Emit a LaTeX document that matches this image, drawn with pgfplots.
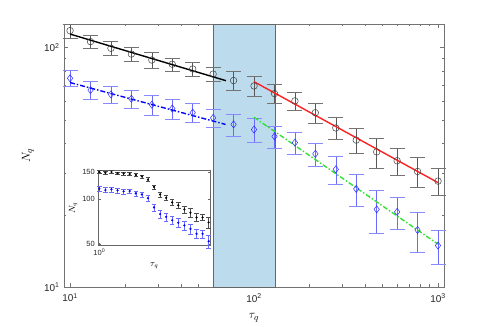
\documentclass[border=0pt]{standalone}
\usepackage{fontspec}
\setmainfont{Liberation Sans}
\usepackage{pgfplots}
\usepackage{pgfplotstable}
\pgfplotsset{compat=1.18}
\definecolor{clrBand}{HTML}{BCDCEE}
\definecolor{clrBar}{HTML}{6A6AFF}
\definecolor{clrDia}{HTML}{2A2AFF}
\definecolor{clrRed}{HTML}{FF2020}
\definecolor{clrGreen}{HTML}{33E033}

% main panel: tau, N (circles) +- err, N (diamonds) +- err
\pgfplotstableread{
x      Nb     eb    Nd    ed
10     117.8  8.0   74.5  5.6
12.92  106.0  7.0   66.5  5.7
16.68  99.4   6.7   63.8  5.4
21.54  94.1   6.1   61.2  5.3
27.83  88.8   6.7   57.8  5.5
35.94  85.3   5.4   55.7  5.3
46.42  81.5   5.7   53.5  4.8
59.95  77.6   5.4   50.9  4.6
77.43  72.9   6.6   47.8  5.1
100    69.2   6.6   45.5  5.2
129.2  64.3   5.8   42.6  4.5
166.8  59.9   5.4   40.1  4.4
215.4  53.5   5.2   36.0  4.0
278.3  46.2   4.9   31.0  4.1
359.4  41.1   4.9   25.7  3.9
464.2  36.7   5.3   21.1  4.3
599.5  33.7   4.4   20.6  3.1
774.3  30.4   4.3   17.3  3.3
1000   27.7   3.6   14.9  2.4
}\maindata

% inset panel
\pgfplotstableread{
x     Nb     eb   Nd     ed
1.000 150.7  3.0  116.8  4.5
1.122 149.1  3.0  114.3  4.5
1.259 150.7  3.0  115.6  4.5
1.413 147.7  3.0  113.8  4.5
1.585 147.0  3.0  112.0  4.0
1.778 146.1  3.0  112.5  4.0
1.995 143.9  3.5  108.6  4.5
2.239 141.0  3.5  106.9  4.0
2.512 134.1  4.0  100.9  4.5
2.818 119.9  4.0  87.7   4.5
3.162 106.9  4.0  79.1   4.5
3.548 101.5  4.0  75.9   4.5
3.981 94.6   4.0  72.0   4.5
4.467 90.5   4.0  69.4   4.5
5.012 85.1   4.5  66.6   4.5
5.623 80.9   6.0  63.1   5.0
6.310 75.2   4.5  58.5   4.0
7.079 75.2   3.5  58.5   3.5
7.943 69.7   6.0  52.2   5.0
}\insetdata

\begin{document}
\begin{tikzpicture}
\begin{loglogaxis}[
  at={(0,0)}, anchor=south west,
  scale only axis, width=380bp, height=263bp,
  xmin=9.27, xmax=1078, ymin=10, ymax=125.6,
  xtick={10,100,1000},
  xticklabels={10\textsuperscript{1},10\textsuperscript{2},10\textsuperscript{3}},
  ytick={10,100},
  yticklabels={10\textsuperscript{1},10\textsuperscript{2}},
  minor xtick={20,30,40,50,60,70,80,90,200,300,400,500,600,700,800,900},
  minor ytick={20,30,40,50,60,70,80,90},
  tick align=inside,
  major tick length=4bp, minor tick length=2.5bp,
  axis line style={black!55},
  every tick/.style={black!55},
  tick label style={font=\fontsize{10}{10}\selectfont, black!85},
  xticklabel style={yshift=-3bp},
  yticklabel style={xshift=-1bp},
  xlabel={$\tau_q$}, ylabel={$N_q$},
  label style={font=\fontsize{13}{13}\selectfont},
  xlabel style={at={(axis description cs:0.5,-0.118)}, anchor=center},
  ylabel style={at={(axis description cs:-0.095,0.5)}, anchor=center},
  clip=false,
]
\addplot[fill=clrBand, draw=black!60, line width=0.6pt]
  coordinates {(60,10)(130,10)(130,125.6)(60,125.6)} -- cycle;

\addplot[only marks, mark=o, mark size=3.3bp, black!75, line width=0.5pt,
  error bars/.cd, y dir=both, y explicit,
  error bar style={black!65, line width=0.6pt},
  error mark options={rotate=90, mark size=7.5bp, black!55, line width=0.6pt}]
  table[x=x, y=Nb, y error=eb] {\maindata};

\addplot[only marks, mark=diamond, mark size=3.6bp, clrDia, line width=0.5pt,
  error bars/.cd, y dir=both, y explicit,
  error bar style={clrBar, line width=0.6pt},
  error mark options={rotate=90, mark size=7.5bp, clrBar!80, line width=0.6pt}]
  table[x=x, y=Nd, y error=ed] {\maindata};

\addplot[black, line width=1.4pt] coordinates {(10,114)(70.4,72.8)};
\addplot[blue, line width=1.4pt, dash pattern=on 5pt off 2pt on 1.5pt off 2pt]
  coordinates {(10,71.5)(70,47.8)};
\addplot[clrRed, line width=1.4pt] coordinates {(100,72.1)(1000,27.3)};
\addplot[clrGreen, line width=1.4pt, dash pattern=on 5pt off 2pt on 1.5pt off 2pt]
  coordinates {(100,51.2)(1000,15.1)};
\end{loglogaxis}

\begin{loglogaxis}[
  at={(34.3bp,42bp)}, anchor=south west,
  scale only axis, width=112bp, height=74.7bp,
  xmin=0.981, xmax=8.19, ymin=49.3, ymax=154.7,
  axis background/.style={fill=white},
  xtick={1}, xticklabels={10\textsuperscript{0}},
  ytick={50,100,150}, yticklabels={50,100,150},
  minor xtick={}, minor ytick={},
  tick align=inside, major tick length=2.5bp,
  axis line style={black!60},
  every tick/.style={black!60},
  tick label style={font=\fontsize{7.5}{7.5}\selectfont, black!85},
  xlabel={$\tau_q$}, ylabel={$N_q$},
  label style={font=\fontsize{9}{9}\selectfont},
  xlabel style={at={(axis description cs:0.5,-0.28)}, anchor=center},
  ylabel style={at={(axis description cs:-0.225,0.5)}, anchor=center},
  clip=false,
]
\addplot[only marks, mark=*, mark size=0.9bp, black,
  error bars/.cd, y dir=both, y explicit,
  error bar style={black!70, line width=0.5pt},
  error mark options={rotate=90, mark size=2.2bp, black!70, line width=0.5pt}]
  table[x=x, y=Nb, y error=eb] {\insetdata};
\addplot[only marks, mark=*, mark size=0.9bp, blue,
  error bars/.cd, y dir=both, y explicit,
  error bar style={clrBar, line width=0.5pt},
  error mark options={rotate=90, mark size=2.2bp, clrBar, line width=0.5pt}]
  table[x=x, y=Nd, y error=ed] {\insetdata};
\end{loglogaxis}
\pgfresetboundingbox
\path[use as bounding box] (-64bp,-40bp) rectangle (427bp,287bp);
\end{tikzpicture}
\end{document}
